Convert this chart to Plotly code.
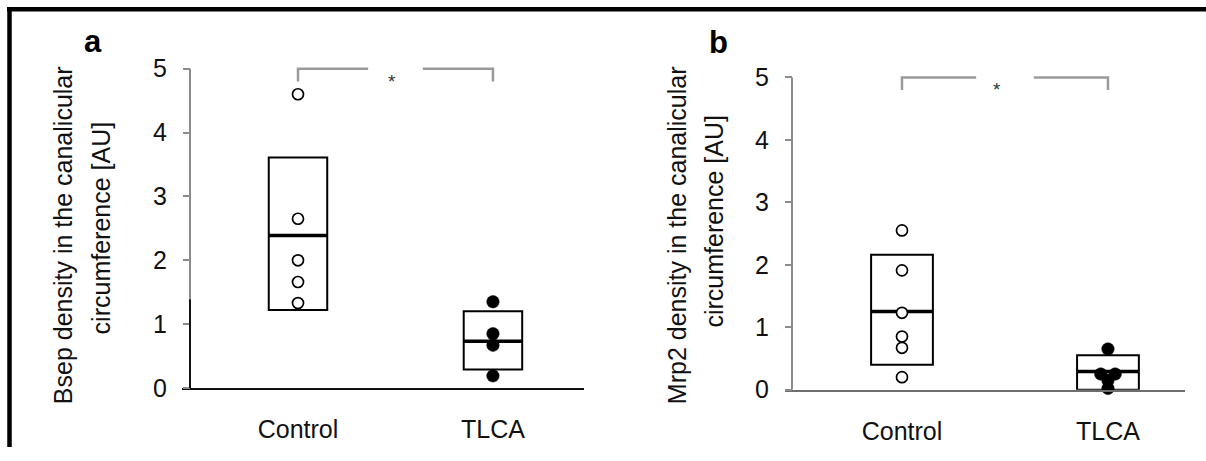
import plotly.graph_objects as go

# ---- data -------------------------------------------------------------
categories = ["Control", "TLCA"]

bsep_control = [4.6, 2.65, 2.0, 1.66, 1.33]
bsep_tlca = [1.35, 0.85, 0.67, 0.19]
bsep_mean = [2.39, 0.73]
bsep_low = [1.22, 0.29]
bsep_high = [3.61, 1.20]

mrp2_control = [2.55, 1.91, 1.23, 0.85, 0.67, 0.20]
mrp2_tlca = [0.65, 0.25, 0.25, 0.15, 0.02]
mrp2_mean = [1.25, 0.29]
mrp2_low = [0.40, 0.0]
mrp2_high = [2.16, 0.55]

y_ticks = [0, 1, 2, 3, 4, 5]

W, H = 1206, 461
FONT = "Liberation Sans, Arial, sans-serif"
GRAY = "#8c8c8c"
TEXT = "#111111"

fig = go.Figure()


def px_x(p):
    return p / W


def px_y(p):
    return 1 - p / H


panels = [
    dict(xa="x", ya="y", xname="xaxis", yname="yaxis",
         xdom=[px_x(182), px_x(584)], xrange=[-0.595, 1.467],
         ydom=[px_y(400), px_y(400 - 66 * 5.2)], yaxis_x=px_x(190),
         control=bsep_control, tlca=bsep_tlca, mean=bsep_mean, low=bsep_low, high=bsep_high,
         tlca_dx=[0, 0, 0, 0], letter="a", letter_xy=(93, 42),
         title=["Bsep density in the canalicular", "circumference [AU]"],
         title_x=[63, 101], title_y=[242, 234], split=1.39, star_x=0.48,
         xline="#111111"),
    dict(xa="x2", ya="y2", xname="xaxis2", yname="yaxis2",
         xdom=[px_x(785), px_x(1185)], xrange=[-0.568, 1.374],
         ydom=[px_y(401.7), px_y(401.7 - 64.54 * 5.2)], yaxis_x=px_x(792),
         control=mrp2_control, tlca=mrp2_tlca, mean=mrp2_mean, low=mrp2_low, high=mrp2_high,
         tlca_dx=[0, -0.035, 0.035, 0, 0], letter="b", letter_xy=(718, 43),
         title=["Mrp2 density in the canalicular", "circumference [AU]"],
         title_x=[677, 714], title_y=[242, 228], split=None, star_x=0.46,
         xline="#6e6e6e"),
]

half_w = 0.15
shapes = []
annotations = []

for p in panels:
    xa, ya = p["xa"], p["ya"]

    # mean +/- SD boxes with a heavy mean line
    for i in range(len(categories)):
        shapes.append(dict(type="rect", xref=xa, yref=ya,
                           x0=i - half_w, x1=i + half_w, y0=p["low"][i], y1=p["high"][i],
                           line=dict(color="black", width=2), fillcolor="white", layer="below"))
        shapes.append(dict(type="line", xref=xa, yref=ya,
                           x0=i - half_w, x1=i + half_w, y0=p["mean"][i], y1=p["mean"][i],
                           line=dict(color="black", width=3.5), layer="below"))

    # individual values
    fig.add_trace(go.Scatter(
        x=[0] * len(p["control"]), y=p["control"], xaxis=xa, yaxis=ya,
        mode="markers", cliponaxis=False, showlegend=False,
        marker=dict(symbol="circle", size=11, color="white",
                    line=dict(color="black", width=1.7))))
    fig.add_trace(go.Scatter(
        x=[1 + d for d in p["tlca_dx"]], y=p["tlca"], xaxis=xa, yaxis=ya,
        mode="markers", cliponaxis=False, showlegend=False,
        marker=dict(symbol="circle", size=12.5, color="black",
                    line=dict(color="black", width=0.5))))

    # y-axis line
    if p["split"] is None:
        shapes.append(dict(type="line", xref="paper", yref=ya, x0=p["yaxis_x"], x1=p["yaxis_x"],
                           y0=0, y1=5, line=dict(color=GRAY, width=2)))
    else:
        shapes.append(dict(type="line", xref="paper", yref=ya, x0=p["yaxis_x"], x1=p["yaxis_x"],
                           y0=p["split"], y1=5, line=dict(color=GRAY, width=2)))
        shapes.append(dict(type="line", xref="paper", yref=ya, x0=p["yaxis_x"], x1=p["yaxis_x"],
                           y0=0, y1=p["split"], line=dict(color="#111111", width=2)))

    # significance bracket
    br = dict(color="#9a9a9a", width=2.5)
    shapes.append(dict(type="path", xref=xa, yref=ya,
                       path="M 0,4.8 L 0,5 L 0.36,5", line=br))
    shapes.append(dict(type="path", xref=xa, yref=ya,
                       path="M 0.64,5 L 1,5 L 1,4.8", line=br))
    annotations.append(dict(text="*", xref=xa, yref=ya, x=p["star_x"], y=4.8,
                            showarrow=False, font=dict(family=FONT, size=19, color="#333333"),
                            xanchor="center", yanchor="middle"))

    # panel letter
    annotations.append(dict(text="<b>%s</b>" % p["letter"], xref="paper", yref="paper",
                            x=px_x(p["letter_xy"][0]), y=px_y(p["letter_xy"][1]),
                            showarrow=False, font=dict(family=FONT, size=31, color="black"),
                            xanchor="center", yanchor="middle"))

    # y-axis title, two lines
    for line_txt, tx, ty in zip(p["title"], p["title_x"], p["title_y"]):
        annotations.append(dict(text=line_txt, xref="paper", yref="paper",
                                x=px_x(tx), y=px_y(ty), textangle=-90,
                                showarrow=False, font=dict(family=FONT, size=25, color=TEXT),
                                xanchor="center", yanchor="middle"))

    fig.layout[p["xname"]] = dict(
        domain=p["xdom"], range=p["xrange"], anchor=ya,
        tickvals=[0, 1], ticktext=categories, ticks="",
        showline=True, linecolor=p["xline"], linewidth=2,
        showgrid=False, zeroline=False, ticklabelstandoff=18,
        tickfont=dict(family=FONT, size=25, color=TEXT))
    fig.layout[p["yname"]] = dict(
        domain=p["ydom"], range=[0, 5.2], anchor="free", position=p["yaxis_x"],
        tickvals=y_ticks, ticks="outside", ticklen=7, tickwidth=2, tickcolor=GRAY,
        showline=False, showgrid=False, zeroline=False, ticklabelstandoff=11,
        tickfont=dict(family=FONT, size=25, color=TEXT))

# outer frame: top and left edges
shapes.append(dict(type="line", xref="paper", yref="paper", x0=px_x(7), x1=1,
                   y0=px_y(8.5), y1=px_y(8.5), line=dict(color="black", width=4.5)))
shapes.append(dict(type="line", xref="paper", yref="paper", x0=px_x(9.5), x1=px_x(9.5),
                   y0=px_y(6.5), y1=0, line=dict(color="black", width=4.5)))

fig.update_layout(
    width=W, height=H, margin=dict(l=0, r=0, t=0, b=0),
    paper_bgcolor="white", plot_bgcolor="rgba(0,0,0,0)",
    shapes=shapes, annotations=annotations, showlegend=False,
)

fig.write_html(
    "out.html",
    config={"displayModeBar": False},
    post_script="document.body.style.margin='0';document.body.style.overflow='hidden';",
)
